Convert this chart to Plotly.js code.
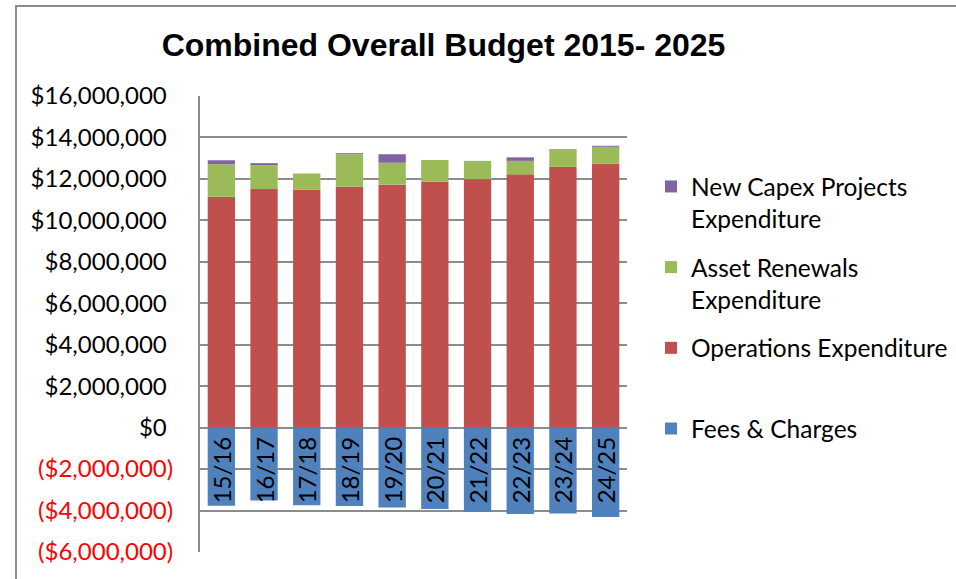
<!DOCTYPE html>
<html>
<head>
<meta charset="utf-8">
<script src="https://cdn.plot.ly/plotly-3.0.1.min.js"></script>
<style>
  body { margin: 0; padding: 0; background: #fff; }
  #wrap { position: relative; width: 956px; height: 579px; overflow: hidden; }
  #chart { position: absolute; left: 0; top: 0; width: 956px; height: 579px; }
  #frame { position: absolute; left: 15px; top: 5px; width: 1200px; height: 1200px;
           border-left: 2px solid #8c8c8c; border-top: 2px solid #8c8c8c; pointer-events: none; }
</style>
</head>
<body>
<div id="wrap">
  <div id="chart"></div>
  <div id="frame"></div>
</div>
<script>
// ---- data ----
const categories = ["15/16","16/17","17/18","18/19","19/20","20/21","21/22","22/23","23/24","24/25"];
const feesCharges = [-3770000,-3510000,-3750000,-3780000,-3850000,-3930000,-4060000,-4170000,-4140000,-4310000];
const operationsExp = [11140000,11510000,11470000,11620000,11720000,11860000,11990000,12220000,12580000,12730000];
const assetRenewalsExp = [1570000,1150000,790000,1570000,1060000,1050000,880000,650000,860000,820000];
const newCapexExp = [190000,100000,0,50000,410000,0,0,170000,0,50000];
const yTickVals = [16000000,14000000,12000000,10000000,8000000,6000000,4000000,2000000,0,-2000000,-4000000,-6000000];
const yTickLabels = ["$16,000,000","$14,000,000","$12,000,000","$10,000,000","$8,000,000","$6,000,000","$4,000,000","$2,000,000","$0","($2,000,000)","($4,000,000)","($6,000,000)"];

const hidden = '<span style="color:rgba(0,0,0,0)">)</span>';
const yTickText = yTickLabels.map((t, i) =>
  yTickVals[i] < 0 ? '<span style="color:#ff0000">' + t + '</span>' : t + hidden);

const font = 'Lato, Carlito, Calibri, sans-serif';

const traces = [
  { name: 'Fees &amp; Charges', legendgroup: 'g1', legendrank: 4, x: categories, y: feesCharges, type: 'bar',
    marker: { color: '#4f81bd' },
    texttemplate: '%{x}\u00a0', textposition: 'inside', insidetextanchor: 'start',
    textangle: -90, constraintext: 'none', cliponaxis: false,
    insidetextfont: { family: font, size: 24, color: '#000' }, hoverinfo: 'skip' },
  { name: 'Operations Expenditure<br> ', legendgroup: 'g2', legendrank: 3, x: categories, y: operationsExp, type: 'bar',
    marker: { color: '#c0504d' } },
  { name: 'Asset Renewals<br>Expenditure', legendgroup: 'g3', legendrank: 2, x: categories, y: assetRenewalsExp, type: 'bar',
    marker: { color: '#9bbb59' } },
  { name: 'New Capex Projects<br>Expenditure', legendgroup: 'g4', legendrank: 1, x: categories, y: newCapexExp, type: 'bar',
    marker: { color: '#8064a2' } }
];

const layout = {
  width: 956, height: 579,
  margin: { l: 200, r: 329, t: 96, b: 27, pad: 0, autoexpand: false },
  paper_bgcolor: 'rgba(0,0,0,0)', plot_bgcolor: '#fff',
  barmode: 'relative', bargap: 0.36,
  font: { family: font, size: 24, color: '#000' },
  title: { text: 'Combined Overall Budget 2015- 2025',
           font: { family: '"Liberation Sans", Arial, sans-serif', size: 32, color: '#000', weight: 'bold' },
           xref: 'container', x: 443.5 / 956, xanchor: 'center',
           yref: 'container', y: 1 - 45 / 579, yanchor: 'middle', automargin: false },
  xaxis: { type: 'category', showticklabels: false, showgrid: false, zeroline: false,
           showline: false, ticks: '', fixedrange: true },
  yaxis: { range: [-6000000, 16000000], tickvals: yTickVals, ticktext: yTickText,
           showgrid: true, gridcolor: '#8c8c8c', gridwidth: 2,
           zeroline: true, zerolinecolor: '#8c8c8c', zerolinewidth: 2,
           showline: true, linecolor: '#8c8c8c', linewidth: 2, ticks: '',
           ticklabelstandoff: 20, automargin: false,
           tickfont: { family: font, size: 24, color: '#000' }, fixedrange: true },
  showlegend: true,
  legend: { x: (651 - 200) / 427, xanchor: 'left', y: 1 - (164 - 96) / 456, yanchor: 'top',
            traceorder: 'grouped', valign: 'top', itemwidth: 30, tracegroupgap: 14,
            font: { family: font, size: 24.5, color: '#000' }, bgcolor: 'rgba(0,0,0,0)' }
};

Plotly.newPlot('chart', traces, layout, { staticPlot: true, displayModeBar: false });
</script>
</body>
</html>
